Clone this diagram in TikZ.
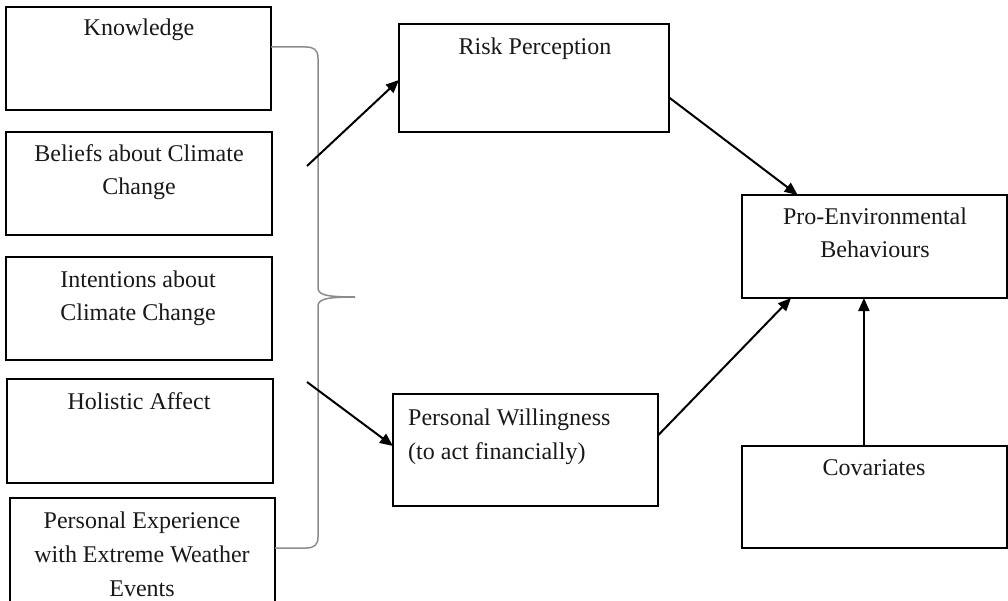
\documentclass[tikz,border=0pt]{standalone}
\usepackage{fontspec}
\setmainfont{Liberation Serif}
\usetikzlibrary{arrows.meta,calc}
\begin{document}
\begin{tikzpicture}[x=1pt,y=-1pt,
  box/.style={draw=black,line width=2.2pt,rectangle,inner sep=0pt,outer sep=0pt,fill=white},
  lbl/.style={font=\fontsize{24}{33}\selectfont,align=center,anchor=base,inner sep=0pt,text=black!90},
  arr/.style={line width=2pt,-{Triangle[length=13pt,width=11pt]}},
  bracestyle/.style={draw=black!45,line width=1.5pt}]
\useasboundingbox (0,0) rectangle (1008,601);
\clip (0,0) rectangle (1008,601);
% left boxes
\node[box,minimum width=265,minimum height=103] (know) at (138.5,58.5) {};
\node[box,minimum width=266,minimum height=103] (belief) at (139,183.5) {};
\node[box,minimum width=266,minimum height=103] (intent) at (139,308.5) {};
\node[box,minimum width=266,minimum height=104] (holi) at (140,431) {};
\node[box,minimum width=265,minimum height=124] (pexp) at (142.5,560) {};
\node[lbl] (tknow) at (139,36) {Knowledge};
\node[lbl] (tbelief) at (139,195) {Beliefs about Climate\\Change};
\node[lbl] (tintent) at (138,320) {Intentions about\\Climate Change};
\node[lbl] (tholi) at (139,409) {Holistic Affect};
\node[lbl,font=\fontsize{24}{34}\selectfont] (tpexp) at (142,596) {Personal Experience\\with Extreme Weather\\Events};
% right boxes
\node[box,minimum width=270,minimum height=108] (rp) at (534,78) {};
\node[box,minimum width=265,minimum height=112] (pw) at (525.5,450) {};
\node[box,minimum width=265,minimum height=103] (peb) at (874.5,246.5) {};
\node[box,minimum width=265,minimum height=102] (cov) at (874.5,497) {};
\node[lbl] (trp) at (535,55) {Risk Perception};
\node[lbl,align=left,anchor=base west,font=\fontsize{24}{34}\selectfont] (tpw) at (408,459) {Personal Willingness\\(to act financially)};
\node[lbl] (tpeb) at (875,258) {Pro-Environmental\\Behaviours};
\node[lbl] (tcov) at (874,475) {Covariates};
% brace
\path[bracestyle] (know.east |- 0,47) -- (306,47) .. controls (314,47) and (318,50) .. (318,58)
  -- (318,287) .. controls (318,294) and (322,297) .. (355,297)
  .. controls (322,297) and (318,300) .. (318,307)
  -- (318,537) .. controls (318,545) and (314,548) .. (306,548) -- (pexp.east |- 0,548);
% connectors
\coordinate (b1) at (307,166);
\coordinate (b2) at (307,382);
\draw[arr] (b1) -- (rp.west |- 0,80);
\draw[arr] (b2) -- (pw.west |- 0,446);
\draw[arr] ($(rp.north east)!0.68!(rp.south east)$) -- ($(peb.north west)!0.21!(peb.north east)$);
\draw[arr] ($(pw.north east)!0.37!(pw.south east)$) -- ($(peb.south west)!0.185!(peb.south east)$);
\coordinate (cv) at ($(cov.north west)!0.46!(cov.north east)$);
\draw[arr] (cv) -- (cv |- peb.south);
\end{tikzpicture}
\end{document}
